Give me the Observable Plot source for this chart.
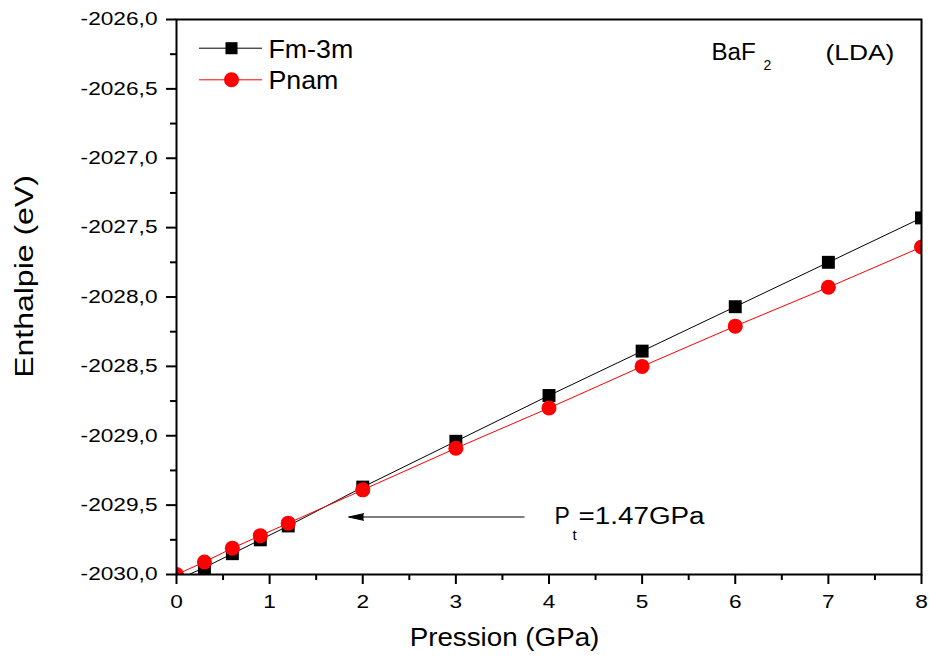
<!DOCTYPE html>
<html><head><meta charset="utf-8">
<script src="https://cdn.jsdelivr.net/npm/d3@7"></script>
<script src="https://cdn.jsdelivr.net/npm/@observablehq/plot@0.6"></script>
<style>body{margin:0;background:#fff}</style>
</head><body><div id="chart"></div>
<script>
// ---- data ----
const pressure = [0, 0.3, 0.6, 0.9, 1.2, 2, 3, 4, 5, 6, 7, 8];
const fm3m = [-2030.04, -2029.95, -2029.85, -2029.75, -2029.65, -2029.37, -2029.04, -2028.71, -2028.39, -2028.07, -2027.75, -2027.43];
const pnam = [-2030.00, -2029.91, -2029.81, -2029.72, -2029.63, -2029.39, -2029.09, -2028.80, -2028.50, -2028.21, -2027.93, -2027.64];
const seriesNames = ["Fm-3m", "Pnam"];
const xDomain = [0, 8];
const yDomain = [-2030, -2026];
const xTicks = [0, 1, 2, 3, 4, 5, 6, 7, 8];
const xMinorTicks = [0.5, 1.5, 2.5, 3.5, 4.5, 5.5, 6.5, 7.5];
const yTicks = [-2030, -2029.5, -2029, -2028.5, -2028, -2027.5, -2027, -2026.5, -2026];
const yMinorTicks = [-2029.75, -2029.25, -2028.75, -2028.25, -2027.75, -2027.25, -2026.75, -2026.25];
const xTitle = "Pression (GPa)";
const yTitle = "Enthalpie (eV)";
const compound = ["BaF", "2"];
const method = "(LDA)";
const transitionLabel = ["P", "t", "=1.47GPa"];

// ---- layout ----
const W = 930, H = 659, ML = 176, MR = 9, MT = 19, MB = 85;
const X = px => xDomain[0] + (px - ML) / (W - ML - MR) * (xDomain[1] - xDomain[0]);
const Y = py => yDomain[1] - (py - MT) / (H - MT - MB) * (yDomain[1] - yDomain[0]);
const FONT = "'Liberation Sans', Arial, Helvetica, sans-serif";

const rows = pressure.map((p, i) => ({p, fm: fm3m[i], pn: pnam[i]}));
const legendFm = [{name: seriesNames[0], ly: Y(47.7), ty: Y(57.3)}];
const legendPn = [{name: seriesNames[1], ly: Y(79.3), ty: Y(88.3)}];
const arrow = {x1: X(524), x2: X(360), tip: X(348), y: Y(516.5)};

const txt = (s, px, py, size, opts = {}) =>
  Plot.text([s], {x: X(px), y: Y(py), text: d => d, fontSize: size, textAnchor: "start", lineAnchor: "bottom", fill: "black", ...opts});

const legendMarks = (data, color, symbol, r) => [
  Plot.ruleY(data, {y: "ly", x1: X(199), x2: X(262), stroke: color, strokeWidth: 1}),
  Plot.dot(data, {x: X(231), y: "ly", symbol, r, fill: color}),
  Plot.text(data, {x: X(268), y: "ty", text: "name", fontSize: 25, textAnchor: "start", lineAnchor: "bottom", fill: "black"})
];

const chart = Plot.plot({
  width: W, height: H,
  marginLeft: ML, marginRight: MR, marginTop: MT, marginBottom: MB,
  style: {fontFamily: FONT, background: "white", color: "black", overflow: "visible"},
  x: {domain: xDomain, label: null},
  y: {domain: yDomain, label: null},
  marks: [
    Plot.axisX({ticks: xMinorTicks, tickSize: 6, strokeWidth: 2, tickFormat: () => "", label: null}),
    Plot.axisX({ticks: xTicks, tickSize: 10, tickPadding: 11, strokeWidth: 2, fontSize: 18, tickFormat: d => String(d), label: null}),
    Plot.axisY({ticks: yMinorTicks, tickSize: 6, strokeWidth: 2, tickFormat: () => "", label: null}),
    Plot.axisY({ticks: yTicks, tickSize: 10, tickPadding: 9, strokeWidth: 2, fontSize: 18, tickFormat: d => d.toFixed(1).replace(".", ","), label: null}),
    Plot.line(rows, {x: "p", y: "fm", stroke: "black", strokeWidth: 1, clip: true}),
    Plot.dot(rows, {x: "p", y: "fm", symbol: "square", r: 7.3, fill: "black", clip: true}),
    Plot.line(rows, {x: "p", y: "pn", stroke: "red", strokeWidth: 1, clip: true}),
    Plot.dot(rows, {x: "p", y: "pn", symbol: "circle", r: 7.5, fill: "red", clip: true}),
    // arrow annotation
    Plot.link([arrow], {x1: "x1", x2: "x2", y1: "y", y2: "y", stroke: "black", strokeWidth: 1.2}),
    Plot.vector([arrow], {x: "tip", y: "y", length: 15, r: 3.3, rotate: -90, anchor: "end", shape: "spike", fill: "black", fillOpacity: 1, stroke: "black", strokeWidth: 1}),
    // legend
    ...legendMarks(legendFm, "black", "square", 6.8),
    ...legendMarks(legendPn, "red", "circle", 7.5),
    // annotations
    txt(compound[0], 711, 59.3, 23),
    txt(compound[1], 763, 69.5, 14),
    txt(method, 825, 59.3, 22),
    txt(transitionLabel[0], 554, 523.3, 23),
    txt(transitionLabel[1], 572, 539, 15),
    txt(transitionLabel[2], 578, 523.3, 23),
    // axis titles
    txt(xTitle, 504, 645, 25, {textAnchor: "middle"}),
    txt(yTitle, 32.3, 276, 26, {textAnchor: "middle", rotate: -90}),
    Plot.frame({stroke: "black", strokeWidth: 2})
  ]
});
document.getElementById("chart").appendChild(chart);

// horizontal glyph stretch to match the reference's wide lettering
const stretch = {"Pression (GPa)": 1.11, "Enthalpie (eV)": 1.23, "Fm-3m": 1.07, "Pnam": 1.07, "(LDA)": 1.2, "=1.47GPa": 1.21, "BaF": 1.05};
chart.querySelectorAll("text").forEach(t => {
  const s = t.textContent;
  if (!s) return;
  let f = stretch[s];
  if (f === undefined) f = t.closest('[aria-label$="tick label"]') ? 1.26 : 1;
  if (f === 1) return;
  const w = t.getComputedTextLength();
  t.setAttribute("textLength", (w * f).toFixed(1));
  t.setAttribute("lengthAdjust", "spacingAndGlyphs");
});
</script>
</body></html>
